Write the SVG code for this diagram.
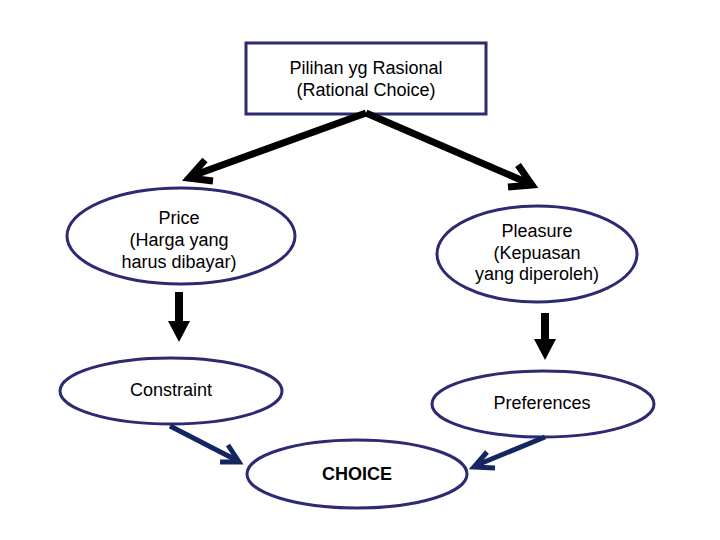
<svg xmlns="http://www.w3.org/2000/svg" width="720" height="540" viewBox="0 0 720 540">
<style>
.n{fill:#fff;stroke:#2b2a72;stroke-width:3}
.t{font-family:"Liberation Sans",Arial,sans-serif;font-size:18px;fill:#000;text-anchor:middle}
.b{stroke:#000;stroke-width:7;fill:none;stroke-linejoin:miter}
.v{stroke:#142660;stroke-width:5;fill:none}
</style>
<rect width="720" height="540" fill="#fff"/>
<g id="rational">
<rect class="n" x="246" y="43" width="240" height="71"/>
<text class="t" x="366" y="74">Pilihan yg Rasional</text>
<text class="t" x="366" y="96">(Rational Choice)</text>
</g>
<g id="price">
<ellipse class="n" cx="181" cy="236" rx="114" ry="48"/>
<text class="t" x="179" y="224">Price</text>
<text class="t" x="179" y="246">(Harga yang</text>
<text class="t" x="179" y="268">harus dibayar)</text>
</g>
<g id="pleasure">
<ellipse class="n" cx="537" cy="254" rx="100" ry="48"/>
<text class="t" x="537" y="237">Pleasure</text>
<text class="t" x="537" y="259">(Kepuasan</text>
<text class="t" x="537" y="280">yang diperoleh)</text>
</g>
<g id="constraint">
<ellipse class="n" cx="171" cy="391" rx="111" ry="33"/>
<text class="t" x="171" y="396">Constraint</text>
</g>
<g id="preferences">
<ellipse class="n" cx="543" cy="404" rx="111" ry="33"/>
<text class="t" x="542" y="409">Preferences</text>
</g>
<g id="choice">
<ellipse class="n" cx="357" cy="474" rx="110" ry="34"/>
<text class="t" x="357" y="480" font-weight="bold">CHOICE</text>
</g>
<g id="connectors">
<path class="b" d="M366,113 L192,176"/>
<path class="b" d="M205,160 L189,178 L213,181"/>
<path class="b" d="M366,113 L528,183"/>
<path class="b" d="M518,165 L532,185 L508,187"/>
<path d="M179,292 V326" stroke="#000" stroke-width="8" fill="none"/>
<polygon points="168,321 190,321 179,342" fill="#000"/>
<path d="M545,313 V344" stroke="#000" stroke-width="8" fill="none"/>
<polygon points="534,339 556,339 545,360" fill="#000"/>
<path class="v" d="M170,426 L236,460"/>
<path class="v" d="M228,445 L239,462 L220,462"/>
<path class="v" d="M545,437 L477,465"/>
<path class="v" d="M487,452 L474,467 L495,468"/>
</g>
</svg>
